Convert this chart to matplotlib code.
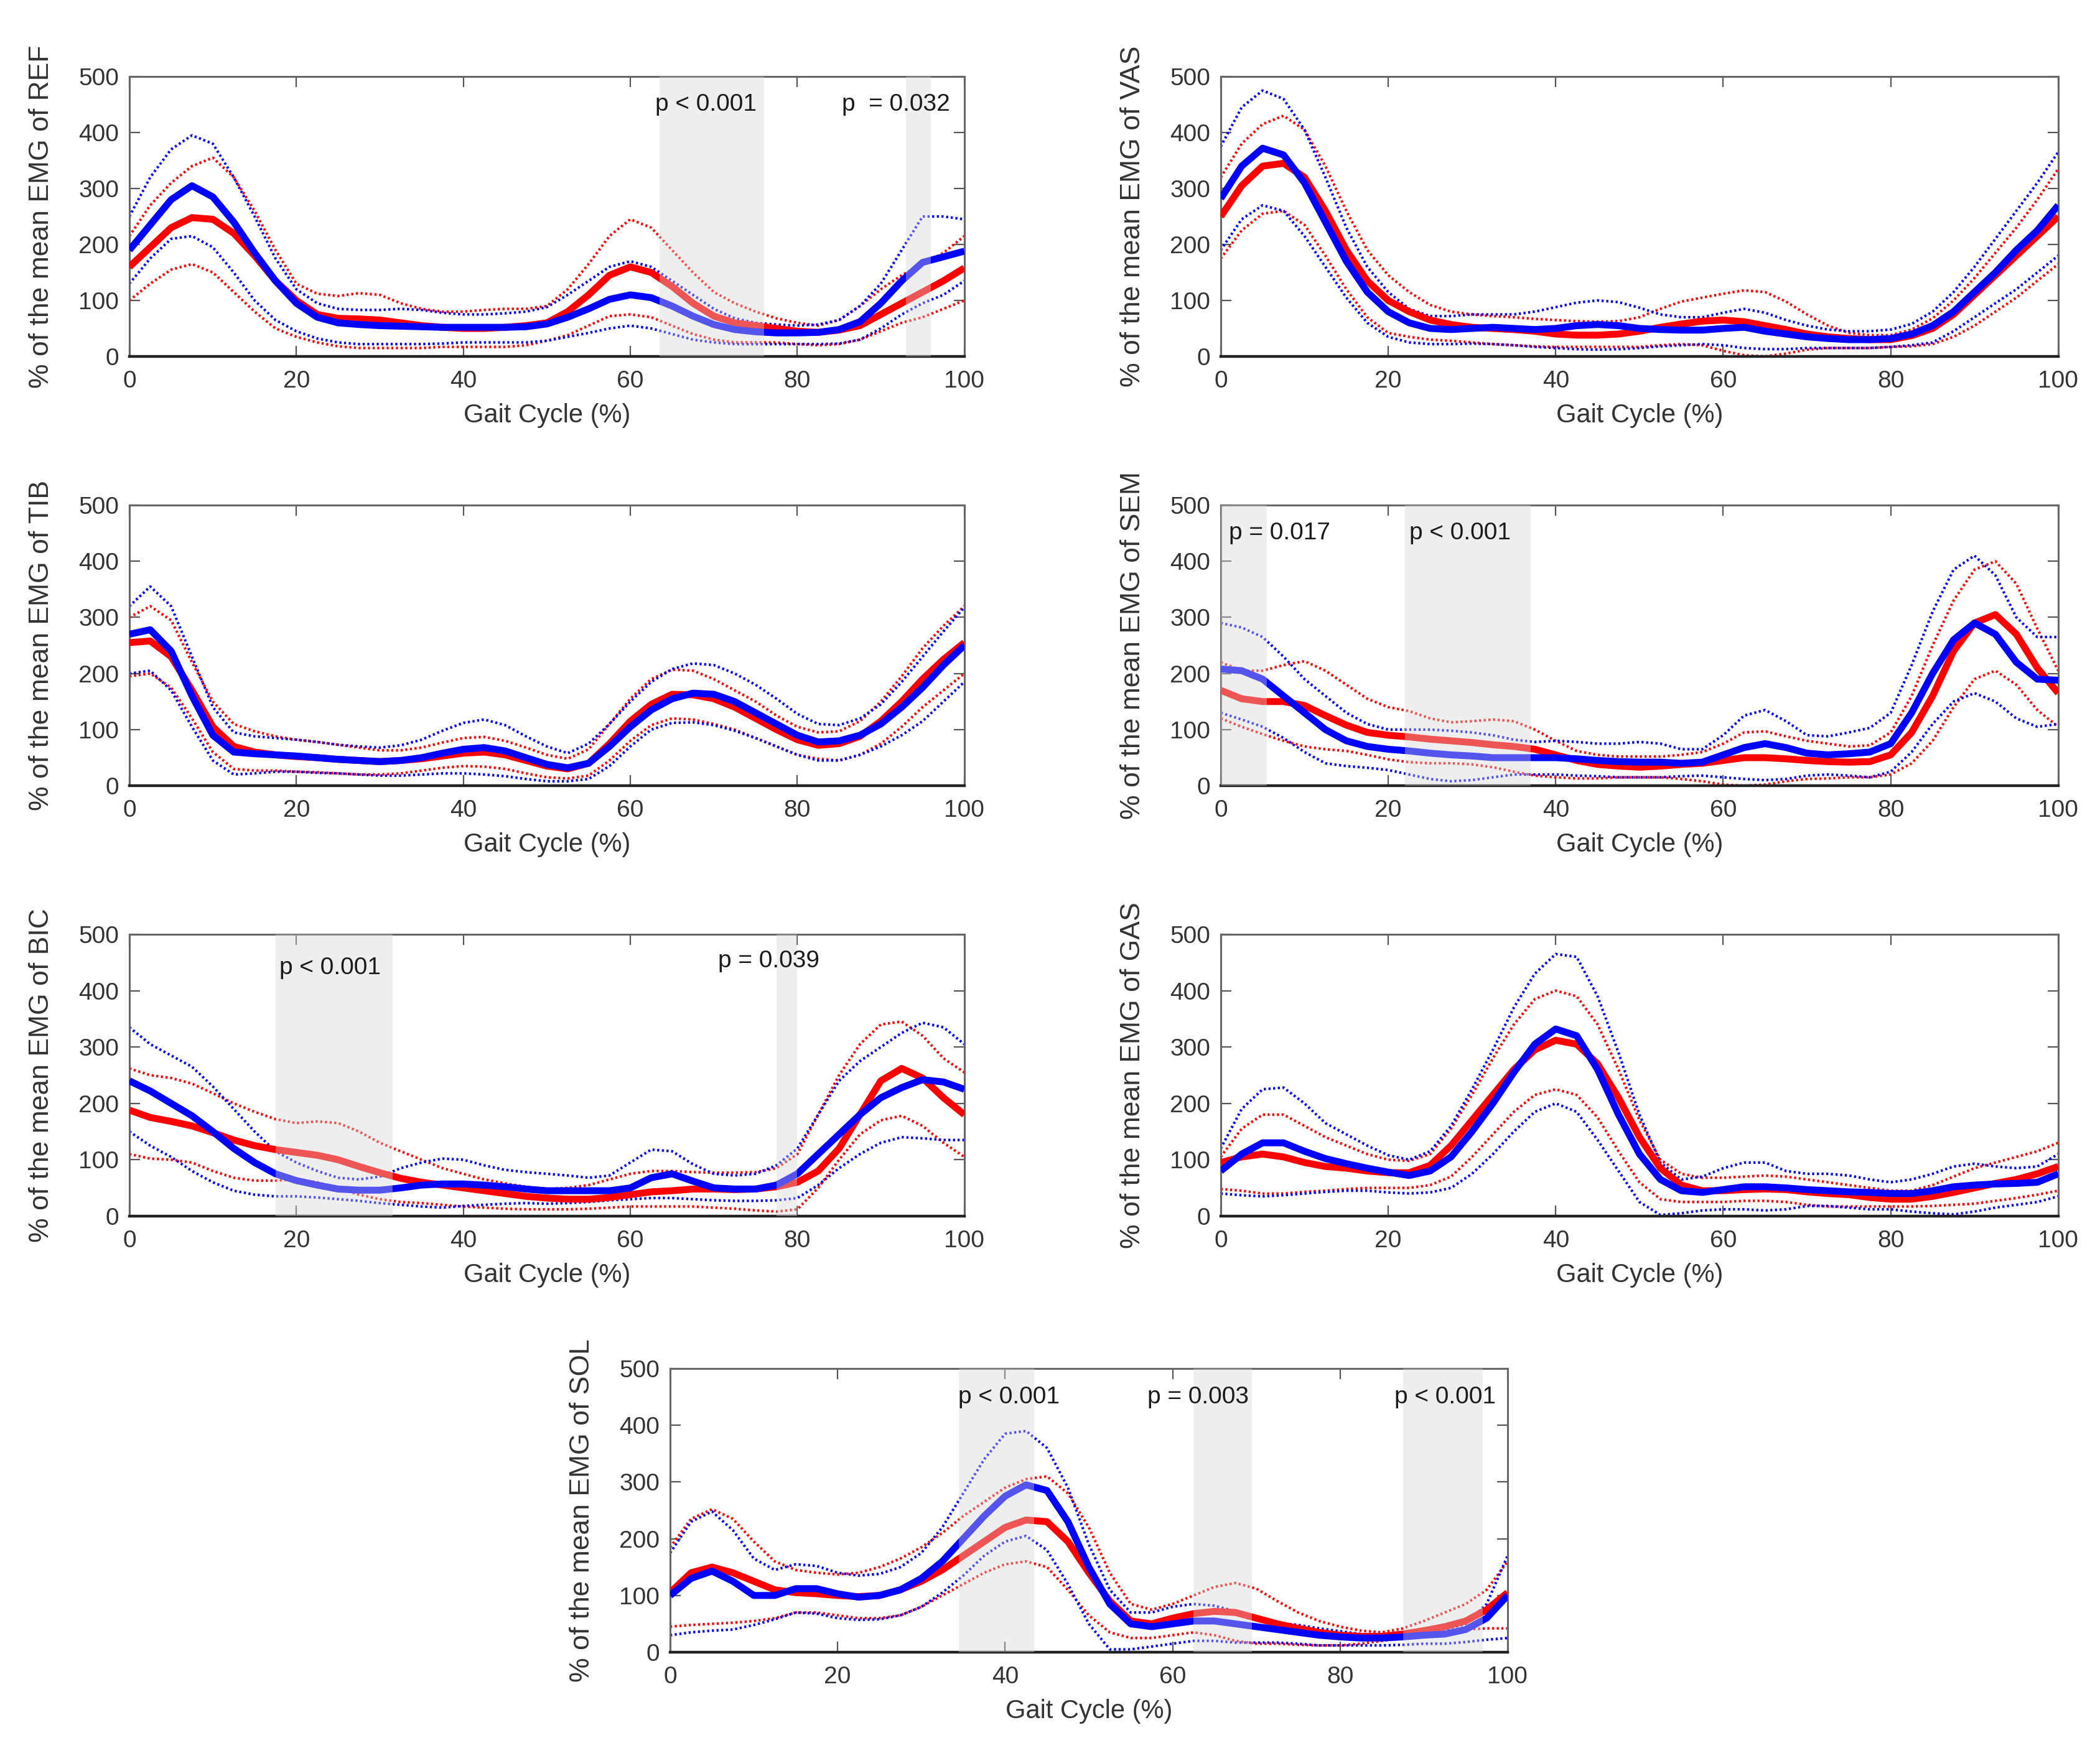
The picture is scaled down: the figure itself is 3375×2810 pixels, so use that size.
import numpy as np
import matplotlib
matplotlib.use("Agg")
import matplotlib.pyplot as plt

plt.rcParams['font.family'] = ['Liberation Sans', 'DejaVu Sans']

# gait cycle sample grid (%)
gait = [0, 2.5, 5, 7.5, 10, 12.5, 15, 17.5, 20, 22.5, 25, 27.5, 30, 32.5, 35, 37.5,
        40, 42.5, 45, 47.5, 50, 52.5, 55, 57.5, 60, 62.5, 65, 67.5, 70, 72.5, 75, 77.5,
        80, 82.5, 85, 87.5, 90, 92.5, 95, 97.5, 100]

# ---------------- REF ----------------
REF_blue_mean = [190, 235, 280, 305, 285, 240, 185, 135, 95, 70, 60, 57, 55, 54, 53, 52, 52, 52, 52, 53, 58, 70, 85, 102, 110, 105, 90, 72, 57, 48, 44, 42, 42, 43, 48, 62, 95, 135, 168, 178, 188]
REF_red_mean = [160, 195, 230, 248, 245, 220, 180, 135, 100, 75, 68, 67, 65, 60, 55, 52, 50, 50, 52, 55, 60, 80, 110, 145, 160, 150, 125, 95, 72, 60, 55, 50, 45, 43, 47, 55, 75, 95, 115, 135, 158]
REF_blue_upper = [250, 320, 370, 395, 380, 320, 250, 175, 120, 95, 85, 83, 83, 85, 83, 78, 75, 75, 77, 80, 88, 110, 135, 160, 170, 160, 135, 110, 85, 68, 60, 57, 55, 57, 65, 90, 130, 190, 250, 250, 245]
REF_blue_lower = [130, 175, 210, 215, 195, 150, 100, 65, 45, 32, 25, 22, 22, 22, 22, 23, 25, 25, 25, 25, 28, 35, 42, 50, 55, 50, 40, 30, 25, 22, 22, 22, 22, 22, 23, 30, 50, 75, 95, 110, 135]
REF_red_upper = [215, 270, 310, 340, 355, 320, 260, 190, 130, 112, 108, 113, 110, 95, 85, 80, 80, 83, 85, 85, 90, 120, 165, 215, 245, 230, 190, 150, 115, 95, 80, 68, 60, 55, 65, 90, 120, 145, 165, 185, 215]
REF_red_lower = [100, 130, 155, 165, 150, 115, 80, 50, 35, 25, 18, 15, 15, 15, 15, 17, 17, 17, 17, 20, 28, 38, 55, 72, 75, 70, 55, 40, 30, 25, 25, 25, 22, 20, 22, 30, 45, 60, 70, 85, 100]

# ---------------- VAS ----------------
VAS_blue_mean = [282, 340, 372, 360, 310, 240, 170, 115, 80, 60, 50, 48, 50, 52, 50, 48, 50, 55, 57, 55, 50, 48, 47, 47, 50, 52, 45, 40, 35, 32, 30, 30, 32, 40, 55, 80, 115, 150, 190, 225, 270]
VAS_red_mean = [250, 305, 340, 345, 320, 260, 190, 135, 100, 80, 65, 57, 52, 50, 48, 45, 40, 38, 38, 40, 45, 52, 58, 63, 65, 62, 55, 48, 40, 35, 32, 30, 30, 37, 50, 75, 110, 145, 180, 215, 250]
VAS_blue_upper = [375, 445, 475, 460, 405, 320, 230, 160, 115, 85, 72, 72, 75, 75, 75, 80, 88, 96, 100, 97, 87, 75, 70, 70, 78, 85, 78, 65, 55, 48, 45, 45, 48, 58, 80, 115, 160, 210, 260, 310, 365]
VAS_blue_lower = [190, 245, 270, 260, 215, 160, 105, 60, 35, 25, 22, 22, 23, 22, 20, 17, 15, 13, 12, 13, 15, 18, 20, 22, 20, 15, 13, 13, 15, 15, 15, 15, 17, 20, 25, 45, 70, 95, 120, 150, 180]
VAS_red_upper = [320, 380, 415, 430, 405, 340, 260, 190, 145, 115, 92, 80, 75, 72, 70, 67, 65, 63, 62, 63, 70, 85, 98, 105, 112, 118, 115, 98, 75, 55, 42, 38, 38, 48, 68, 100, 140, 185, 230, 280, 335]
VAS_red_lower = [175, 225, 255, 260, 235, 180, 120, 70, 42, 35, 30, 28, 25, 22, 20, 18, 17, 17, 17, 17, 17, 20, 22, 20, 10, 2, 0, 5, 12, 15, 15, 15, 17, 18, 22, 35, 55, 80, 105, 135, 165]

# ---------------- TIB ----------------
TIB_blue_mean = [270, 278, 240, 160, 90, 60, 57, 55, 53, 50, 47, 45, 43, 45, 50, 58, 65, 68, 62, 50, 38, 32, 40, 70, 105, 135, 155, 165, 163, 150, 130, 110, 90, 78, 80, 90, 110, 140, 175, 215, 250]
TIB_red_mean = [255, 258, 230, 170, 105, 70, 60, 55, 52, 50, 47, 45, 43, 45, 48, 53, 58, 60, 55, 45, 35, 30, 40, 75, 115, 145, 163, 162, 155, 140, 120, 100, 82, 72, 75, 88, 115, 150, 190, 225, 255]
TIB_blue_upper = [320, 355, 320, 230, 140, 95, 88, 85, 82, 78, 73, 70, 68, 72, 82, 98, 112, 118, 108, 88, 70, 58, 75, 110, 150, 185, 208, 218, 215, 200, 180, 155, 128, 110, 108, 120, 145, 185, 230, 275, 318]
TIB_blue_lower = [200, 205, 170, 105, 45, 20, 22, 25, 25, 23, 22, 20, 18, 18, 20, 22, 22, 20, 17, 12, 8, 8, 12, 35, 70, 100, 112, 113, 108, 98, 85, 70, 55, 45, 45, 55, 70, 90, 115, 150, 185]
TIB_red_upper = [300, 320, 295, 220, 150, 110, 97, 88, 82, 78, 73, 68, 63, 63, 68, 77, 85, 87, 80, 68, 55, 48, 65, 110, 155, 190, 207, 205, 190, 170, 150, 125, 105, 95, 97, 115, 150, 195, 245, 285, 320]
TIB_red_lower = [195, 200, 175, 120, 60, 30, 27, 27, 25, 24, 22, 20, 20, 22, 27, 32, 35, 34, 30, 22, 15, 13, 18, 45, 80, 108, 120, 118, 110, 100, 85, 70, 55, 48, 45, 55, 75, 105, 140, 170, 200]

# ---------------- SEM ----------------
SEM_blue_mean = [208, 205, 190, 160, 130, 100, 80, 70, 65, 62, 58, 55, 53, 50, 50, 50, 50, 48, 45, 43, 42, 42, 40, 42, 55, 68, 75, 68, 58, 55, 57, 60, 75, 130, 200, 260, 290, 270, 220, 190, 188]
SEM_red_mean = [170, 155, 150, 150, 143, 125, 108, 95, 90, 87, 83, 80, 77, 73, 70, 65, 55, 45, 38, 35, 33, 35, 38, 40, 45, 50, 50, 48, 45, 43, 42, 43, 55, 95, 160, 240, 290, 305, 270, 210, 165]
SEM_blue_upper = [290, 282, 265, 230, 190, 160, 130, 110, 100, 100, 100, 98, 95, 90, 82, 78, 80, 78, 75, 75, 78, 75, 65, 65, 90, 125, 135, 115, 90, 88, 95, 103, 130, 215, 310, 385, 410, 375, 300, 265, 265]
SEM_blue_lower = [130, 118, 105, 85, 60, 40, 35, 32, 28, 20, 12, 8, 10, 15, 20, 20, 20, 18, 17, 15, 15, 15, 17, 18, 15, 12, 10, 12, 18, 20, 18, 15, 25, 60, 110, 150, 165, 150, 120, 105, 110]
SEM_red_upper = [220, 205, 205, 215, 222, 205, 180, 155, 140, 133, 120, 113, 115, 118, 115, 100, 80, 62, 55, 52, 52, 52, 55, 60, 75, 95, 97, 88, 80, 75, 70, 72, 95, 160, 250, 330, 385, 400, 360, 280, 205]
SEM_red_lower = [120, 105, 92, 80, 70, 65, 62, 55, 47, 42, 40, 40, 38, 33, 25, 18, 15, 13, 13, 15, 15, 15, 12, 8, 2, 0, 2, 8, 12, 13, 15, 15, 20, 40, 80, 140, 190, 205, 180, 135, 105]

# ---------------- BIC ----------------
BIC_blue_mean = [240, 222, 200, 178, 150, 120, 95, 75, 63, 55, 48, 46, 46, 50, 55, 57, 57, 55, 52, 48, 45, 45, 45, 45, 50, 68, 75, 62, 50, 48, 48, 55, 75, 110, 145, 180, 210, 228, 242, 238, 225]
BIC_red_mean = [188, 175, 168, 160, 148, 135, 125, 118, 113, 108, 100, 88, 77, 67, 60, 55, 50, 45, 40, 35, 32, 30, 30, 33, 38, 43, 45, 48, 48, 47, 48, 52, 60, 80, 120, 180, 240, 262, 245, 210, 180]
BIC_blue_upper = [335, 305, 285, 265, 230, 190, 150, 115, 95, 80, 68, 65, 70, 85, 95, 102, 100, 90, 82, 78, 75, 72, 68, 72, 95, 118, 115, 92, 75, 72, 75, 90, 120, 180, 240, 275, 300, 325, 343, 335, 305]
BIC_blue_lower = [150, 125, 105, 80, 60, 45, 38, 35, 35, 33, 30, 27, 23, 20, 17, 15, 18, 20, 22, 23, 22, 23, 25, 28, 30, 32, 32, 30, 28, 27, 27, 28, 32, 55, 85, 110, 130, 140, 138, 135, 135]
BIC_red_upper = [262, 250, 245, 235, 218, 200, 185, 172, 165, 168, 165, 150, 130, 115, 100, 85, 75, 65, 58, 52, 48, 50, 55, 65, 75, 80, 80, 78, 77, 77, 78, 85, 110, 180, 250, 305, 340, 345, 320, 280, 255]
BIC_red_lower = [110, 102, 100, 95, 80, 68, 63, 63, 65, 60, 50, 38, 30, 25, 23, 20, 17, 15, 13, 12, 12, 12, 13, 15, 17, 17, 17, 17, 15, 13, 10, 8, 12, 50, 100, 145, 170, 178, 160, 130, 105]

# ---------------- GAS ----------------
GAS_blue_mean = [80, 110, 130, 130, 115, 102, 93, 85, 78, 72, 80, 105, 150, 200, 255, 305, 332, 320, 260, 180, 110, 65, 45, 42, 47, 52, 52, 50, 47, 45, 43, 42, 40, 40, 45, 52, 55, 57, 58, 60, 75]
GAS_red_mean = [95, 105, 110, 105, 95, 88, 85, 80, 77, 77, 90, 125, 170, 215, 260, 295, 312, 305, 270, 210, 140, 85, 55, 45, 45, 47, 48, 47, 43, 40, 38, 33, 30, 30, 35, 42, 50, 58, 65, 75, 88]
GAS_blue_upper = [120, 190, 225, 228, 200, 165, 145, 125, 108, 100, 115, 160, 225, 295, 370, 430, 465, 460, 390, 290, 180, 95, 65, 70, 85, 95, 95, 80, 75, 75, 72, 65, 60, 65, 75, 88, 93, 88, 85, 88, 110]
GAS_blue_lower = [40, 37, 35, 37, 40, 43, 45, 45, 42, 40, 42, 50, 75, 110, 150, 185, 200, 185, 135, 80, 25, 2, 5, 10, 12, 12, 10, 12, 18, 18, 15, 12, 12, 8, 5, 3, 8, 15, 20, 25, 35]
GAS_red_upper = [105, 155, 180, 180, 160, 140, 125, 110, 100, 98, 110, 155, 215, 280, 340, 385, 400, 390, 340, 260, 170, 100, 75, 68, 68, 70, 72, 70, 65, 60, 55, 50, 45, 45, 55, 70, 85, 95, 105, 115, 130]
GAS_red_lower = [48, 45, 40, 40, 43, 45, 48, 50, 50, 50, 55, 70, 105, 145, 185, 215, 225, 215, 175, 115, 60, 30, 25, 25, 25, 27, 27, 25, 20, 17, 17, 17, 17, 17, 18, 20, 22, 27, 32, 38, 45]

# ---------------- SOL ----------------
SOL_blue_mean = [100, 130, 143, 125, 100, 100, 112, 112, 103, 97, 100, 110, 130, 160, 200, 240, 275, 295, 285, 230, 150, 85, 50, 45, 50, 55, 55, 50, 45, 40, 35, 30, 27, 25, 25, 27, 30, 32, 40, 60, 100]
SOL_red_mean = [105, 140, 150, 140, 125, 110, 105, 103, 100, 98, 100, 110, 125, 145, 170, 195, 220, 233, 230, 195, 140, 90, 55, 50, 60, 68, 72, 70, 60, 50, 42, 35, 30, 28, 28, 32, 38, 45, 55, 75, 105]
SOL_blue_upper = [175, 230, 248, 215, 165, 145, 155, 152, 140, 135, 138, 150, 175, 220, 280, 340, 385, 390, 360, 290, 190, 110, 70, 70, 80, 85, 82, 72, 60, 52, 48, 42, 37, 32, 30, 32, 37, 40, 50, 85, 170]
SOL_blue_lower = [30, 35, 38, 40, 48, 58, 70, 68, 60, 57, 58, 65, 80, 105, 135, 170, 195, 205, 180, 120, 50, 5, 5, 10, 15, 20, 20, 17, 17, 17, 15, 12, 12, 12, 12, 13, 15, 15, 18, 22, 25]
SOL_red_upper = [185, 235, 252, 235, 195, 160, 145, 140, 137, 140, 150, 165, 185, 210, 240, 265, 290, 305, 310, 280, 220, 140, 85, 75, 85, 100, 115, 122, 112, 90, 70, 55, 45, 38, 35, 42, 55, 70, 85, 110, 160]
SOL_red_lower = [45, 48, 50, 52, 55, 60, 70, 70, 65, 60, 60, 65, 80, 100, 120, 140, 155, 160, 150, 110, 65, 35, 25, 25, 30, 35, 30, 20, 15, 15, 13, 12, 12, 15, 20, 25, 30, 35, 40, 42, 42]

# significance regions and labels
REF_spans = [(63.5, 76.0), (93.0, 96.0)]
REF_labels = [(63.0, 450, "p < 0.001"), (85.3, 450, "p  = 0.032")]
SEM_spans = [(0.0, 5.5), (22.0, 37.0)]
SEM_labels = [(1.0, 450, "p = 0.017"), (22.5, 450, "p < 0.001")]
BIC_spans = [(17.5, 31.5), (77.5, 80.0)]
BIC_labels = [(18.0, 440, "p < 0.001"), (70.5, 452, "p = 0.039")]
SOL_spans = [(34.5, 43.5), (62.5, 69.5), (87.5, 97.0)]
SOL_labels = [(34.4, 450, "p < 0.001"), (57.0, 450, "p = 0.003"), (86.5, 450, "p < 0.001")]

x_ticks = [0, 20, 40, 60, 80, 100]
y_ticks = [0, 100, 200, 300, 400, 500]

panels = [
    ("REF", [0.0616, 0.7961, 0.3976, 0.1601],
     REF_red_mean, REF_red_upper, REF_red_lower, REF_blue_mean, REF_blue_upper, REF_blue_lower, REF_spans, REF_labels),
    ("VAS", [0.5813, 0.7961, 0.3988, 0.1601],
     VAS_red_mean, VAS_red_upper, VAS_red_lower, VAS_blue_mean, VAS_blue_upper, VAS_blue_lower, [], []),
    ("TIB", [0.0616, 0.5505, 0.3976, 0.1605],
     TIB_red_mean, TIB_red_upper, TIB_red_lower, TIB_blue_mean, TIB_blue_upper, TIB_blue_lower, [], []),
    ("SEM", [0.5813, 0.5505, 0.3988, 0.1605],
     SEM_red_mean, SEM_red_upper, SEM_red_lower, SEM_blue_mean, SEM_blue_upper, SEM_blue_lower, SEM_spans, SEM_labels),
    ("BIC", [0.0616, 0.3043, 0.3976, 0.1612],
     BIC_red_mean, BIC_red_upper, BIC_red_lower, BIC_blue_mean, BIC_blue_upper, BIC_blue_lower, BIC_spans, BIC_labels),
    ("GAS", [0.5813, 0.3043, 0.3988, 0.1612],
     GAS_red_mean, GAS_red_upper, GAS_red_lower, GAS_blue_mean, GAS_blue_upper, GAS_blue_lower, [], []),
    ("SOL", [0.3191, 0.0548, 0.3988, 0.1623],
     SOL_red_mean, SOL_red_upper, SOL_red_lower, SOL_blue_mean, SOL_blue_upper, SOL_blue_lower, SOL_spans, SOL_labels),
]

RED = "#ff0000"
BLUE = "#0000ff"
DOT = (0, (0.8, 1.0))

fig = plt.figure(figsize=(33.75, 28.10), dpi=100)

for (name, rect, rm, ru, rl, bm, bu, bl, spans, labels) in panels:
    ax = fig.add_axes(rect)
    for series in (ru, rl):
        ax.plot(gait, series, color=RED, lw=3.0, ls=DOT, zorder=2)
    for series in (bu, bl):
        ax.plot(gait, series, color=BLUE, lw=3.0, ls=DOT, zorder=2)
    ax.plot(gait, rm, color=RED, lw=8, zorder=3, solid_capstyle="butt", solid_joinstyle="round")
    ax.plot(gait, bm, color=BLUE, lw=8, zorder=4, solid_capstyle="butt", solid_joinstyle="round")
    for (a, b) in spans:
        ax.axvspan(a, b, color="#d6d6d6", alpha=0.4, lw=0, zorder=6)
    for (tx, ty, s) in labels:
        ax.text(tx, ty, s, fontsize=28, color="#1a1a1a", ha="left", va="center", zorder=8)
    ax.set_xlim(0, 100)
    ax.set_ylim(0, 500)
    ax.set_xticks(x_ticks)
    ax.set_yticks(y_ticks)
    ax.tick_params(axis="both", direction="in", length=12, width=1.6, colors="#555555",
                   labelcolor="#333333", labelsize=28, top=True, right=True)
    ax.tick_params(axis="x", pad=16)
    ax.tick_params(axis="y", pad=12)
    for side in ["top", "left", "right"]:
        ax.spines[side].set_color("#666666")
        ax.spines[side].set_linewidth(2.2)
    ax.spines["bottom"].set_color("#222222")
    ax.spines["bottom"].set_linewidth(3.2)
    ax.set_xlabel("Gait Cycle (%)", fontsize=30, color="#333333", labelpad=12)
    ax.set_ylabel("% of the mean EMG of " + name, fontsize=32, color="#333333")
    ax.yaxis.set_label_coords(-0.090, 0.5)

fig.savefig("out.png", dpi=100, facecolor="white")
